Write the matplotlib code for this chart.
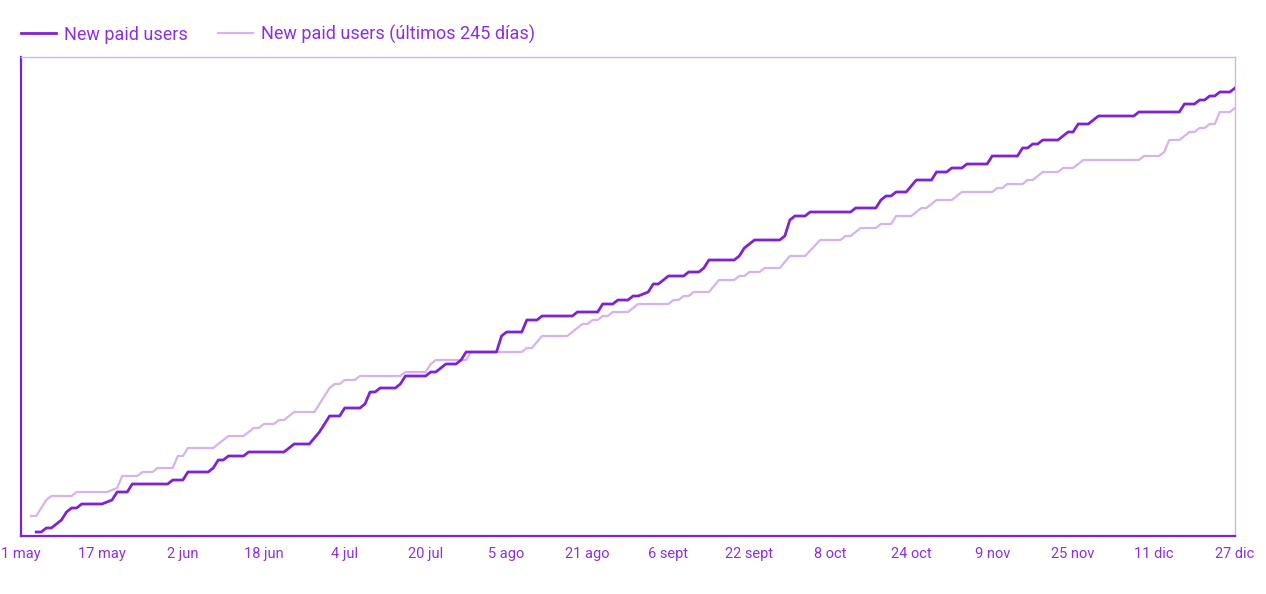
import numpy as np
import matplotlib
matplotlib.use("Agg")
import matplotlib.pyplot as plt
import matplotlib.dates as mdates

plt.rcParams["font.family"] = ["Roboto", "DejaVu Sans"]

start = np.datetime64("2023-05-01")

# cumulative new paid users, (day offset from 1 May, count)
paid_days = [3, 4, 5, 6, 7, 8, 9, 10, 11, 12, 16, 18, 19, 21, 22, 29, 30, 32, 33, 37,
             38, 39, 40, 41, 44, 45, 52, 54, 57, 59, 60, 61, 63, 64, 67, 68, 69, 70, 71, 74,
             75, 76, 80, 81, 82, 84, 86, 87, 88, 94, 95, 96, 99, 100, 102, 103, 109, 110, 114, 115,
             117, 118, 120, 121, 122, 124, 125, 126, 128, 131, 132, 134, 135, 136, 141, 142, 143, 145, 150, 151,
             152, 153, 155, 156, 164, 165, 169, 170, 171, 172, 173, 175, 177, 180, 181, 183, 184, 186, 187, 191,
             192, 197, 198, 199, 200, 201, 202, 205, 207, 208, 209, 211, 213, 220, 221, 229, 230, 232, 233, 234,
             235, 236, 237, 239, 240]
paid_vals = [1, 1, 2, 2, 3, 4, 6, 7, 7, 8, 8, 9, 11, 11, 13, 13, 14, 14, 16, 16,
             17, 19, 19, 20, 20, 21, 21, 23, 23, 26, 28, 30, 30, 32, 32, 33, 36, 36, 37, 37,
             38, 40, 40, 41, 41, 43, 43, 44, 46, 46, 50, 51, 51, 54, 54, 55, 55, 56, 56, 58,
             58, 59, 59, 60, 60, 61, 63, 63, 65, 65, 66, 66, 67, 69, 69, 70, 72, 74, 74, 75,
             79, 80, 80, 81, 81, 82, 82, 84, 85, 85, 86, 86, 89, 89, 91, 91, 92, 92, 93, 93,
             95, 95, 97, 97, 98, 98, 99, 99, 101, 101, 103, 103, 105, 105, 106, 106, 108, 108, 109, 109,
             110, 110, 111, 111, 112]

prev_days = [2, 3, 5, 6, 10, 11, 17, 19, 20, 23, 24, 26, 27, 30, 31, 32, 33, 38, 40, 41,
             44, 46, 47, 48, 50, 51, 52, 54, 58, 61, 62, 63, 64, 66, 67, 75, 76, 80, 81, 82,
             88, 89, 99, 100, 101, 103, 108, 111, 112, 113, 114, 115, 116, 117, 120, 122, 128, 129, 130, 131,
             132, 133, 136, 138, 141, 142, 143, 144, 146, 147, 150, 152, 155, 158, 162, 163, 164, 166, 169, 170,
             172, 173, 176, 178, 179, 181, 184, 186, 192, 193, 194, 195, 198, 199, 200, 202, 205, 206, 208, 210,
             221, 222, 225, 226, 227, 229, 231, 232, 233, 234, 235, 236, 237, 239, 240]
prev_vals = [5, 5, 9, 10, 10, 11, 11, 12, 15, 15, 16, 16, 17, 17, 20, 20, 22, 22, 24, 25,
             25, 27, 27, 28, 28, 29, 29, 31, 31, 37, 38, 38, 39, 39, 40, 40, 41, 41, 43, 44,
             44, 46, 46, 47, 47, 50, 50, 53, 53, 54, 54, 55, 55, 56, 56, 58, 58, 59, 59, 60,
             60, 61, 61, 64, 64, 65, 65, 66, 66, 67, 67, 70, 70, 74, 74, 75, 75, 77, 77, 78,
             78, 80, 80, 82, 82, 84, 84, 86, 86, 87, 87, 88, 88, 89, 89, 91, 91, 92, 92, 94,
             94, 95, 95, 96, 99, 99, 101, 101, 102, 102, 103, 103, 106, 106, 107]

tick_days = [0, 16, 32, 48, 64, 80, 96, 112, 128, 144, 160, 176, 192, 208, 224, 240]
tick_labels = ["1 may", "17 may", "2 jun", "18 jun", "4 jul", "20 jul", "5 ago", "21 ago",
               "6 sept", "22 sept", "8 oct", "24 oct", "9 nov", "25 nov", "11 dic", "27 dic"]

dark = "#7f22d4"
light = "#d3b3f3"
text_col = "#8d2fdf"

fig = plt.figure(figsize=(12.66, 5.94), dpi=100)
ax = fig.add_axes([21 / 1266, 58 / 594, 1214 / 1266, 479 / 594])

ax.plot(start + np.array(paid_days), paid_vals, color=dark, lw=2.0,
        solid_joinstyle="round", label="New paid users", zorder=3)
ax.plot(start + np.array(prev_days), prev_vals, color=light, lw=1.6,
        solid_joinstyle="round", label="New paid users (últimos 245 días)", zorder=2)

ax.set_xlim(start, start + 240)
ax.set_ylim(0, 119.75)
ax.set_xticks(start + np.array(tick_days))
ax.set_xticklabels(tick_labels)
ax.set_yticks([])
ax.tick_params(axis="x", length=0, pad=8, labelsize=10.5, labelcolor=text_col)

ax.spines["left"].set_color(dark)
ax.spines["bottom"].set_color(dark)
ax.spines["left"].set_linewidth(1.6)
ax.spines["bottom"].set_linewidth(1.6)
ax.spines["top"].set_color(light)
ax.spines["right"].set_color(light)
ax.spines["top"].set_linewidth(1.0)
ax.spines["right"].set_linewidth(1.0)

leg = ax.legend(loc="lower left", bbox_to_anchor=(0.0, 1.027), ncol=2, frameon=False,
                fontsize=13, handlelength=1.95, handletextpad=0.45, columnspacing=1.65,
                borderaxespad=0, borderpad=0)
for t in leg.get_texts():
    t.set_color(text_col)

fig.savefig("out.png", dpi=100)
